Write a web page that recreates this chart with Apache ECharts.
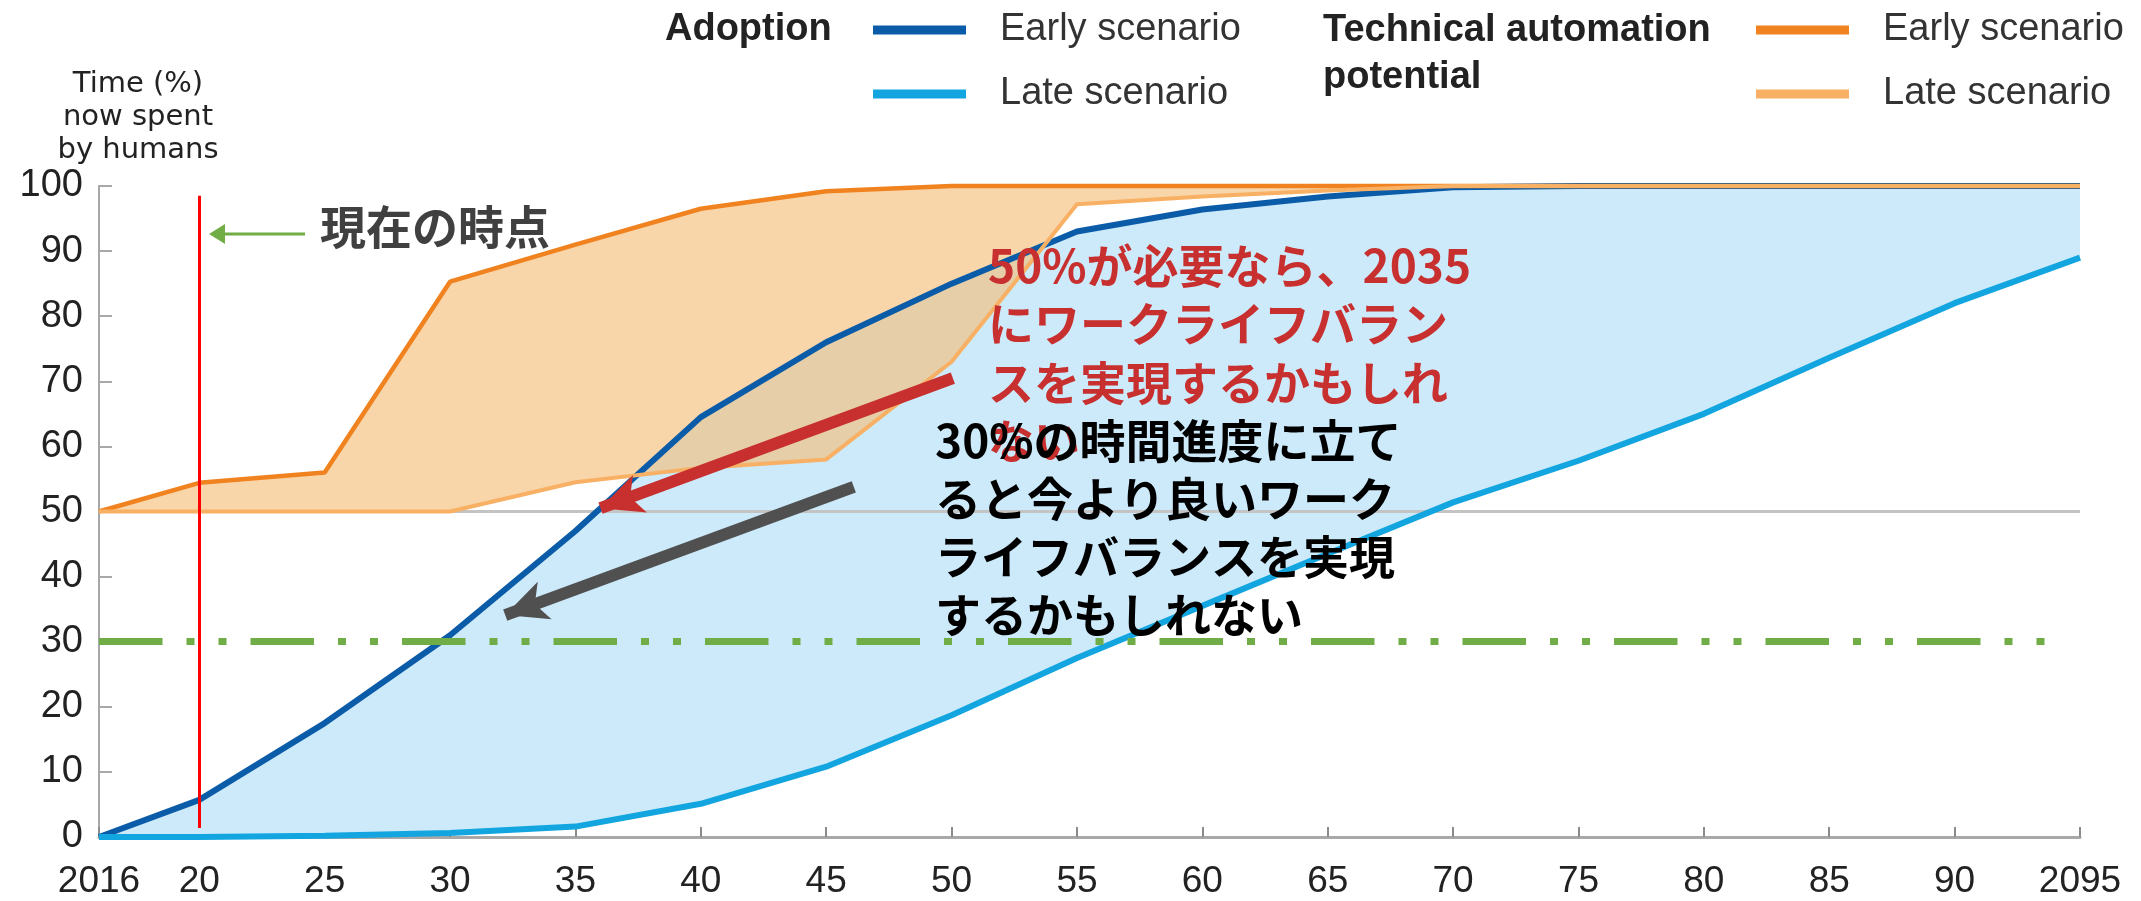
<!DOCTYPE html>
<html>
<head>
<meta charset="utf-8">
<script src="https://cdn.jsdelivr.net/npm/echarts@6/dist/echarts.min.js"></script>
<style>
html,body{margin:0;padding:0;background:#fff;}
#chart{width:2141px;height:901px;}
</style>
</head>
<body>
<div id="chart"></div>
<script>
// ---- data ----
var years = [2016, 2020, 2025, 2030, 2035, 2040, 2045, 2050, 2055, 2060, 2065, 2070, 2075, 2080, 2085, 2090, 2095];
var adoptionEarly = [0, 5.7, 17.5, 31, 47, 64.5, 76, 85, 93, 96.4, 98.4, 99.8, 100, 100, 100, 100, 100];
var adoptionLate  = [0, 0, 0.2, 0.6, 1.6, 5.1, 10.8, 18.7, 27.5, 35.5, 43.5, 51.4, 57.8, 65, 73.6, 82, 89];
var techEarly     = [50, 54.4, 56, 85.3, 91, 96.5, 99.2, 100, 100, 100, 100, 100, 100, 100, 100, 100, 100];
var techLate      = [50, 50, 50, 50, 54.5, 56.7, 58, 73, 97.2, 98.4, 99.3, 100, 100, 100, 100, 100, 100];
var xTickValues = [2016, 2020, 2025, 2030, 2035, 2040, 2045, 2050, 2055, 2060, 2065, 2070, 2075, 2080, 2085, 2090, 2095];

// reference lines / annotations (data coordinates)
var nowYear = 2020, nowLineFrom = 1.4, nowLineTo = 98.5;
var midLineValue = 50;
var targetLineValue = 30, targetLineEnd = 2093.7;
var redArrow = [[2050.05, 70.5], [2036.0, 50.5]];
var grayArrow = [[2046.1, 53.8], [2032.2, 34.1]];

function pairs(xs, ys) { return xs.map(function (x, i) { return [x, ys[i]]; }); }
function bandRows(lo, hi) { return years.map(function (x, i) { return [x, lo[i], hi[i]]; }); }

var C_DARKBLUE = '#0b5ca8', C_LIGHTBLUE = '#12a5df', C_ORANGE = '#f0821f', C_LORANGE = '#f8b064';
var FONT = 'Liberation Sans, Arial, sans-serif';
var JP = '"Noto Sans CJK JP", sans-serif';

function bandRenderer(lo, hi, fill) {
  return function (params, api) {
    if (params.dataIndex !== 0) return null;
    var pts = [];
    for (var i = 0; i < years.length; i++) pts.push(api.coord([years[i], hi[i]]));
    for (var j = years.length - 1; j >= 0; j--) pts.push(api.coord([years[j], lo[j]]));
    return { type: 'polygon', shape: { points: pts }, style: { fill: fill }, silent: true };
  };
}

var chart = echarts.init(document.getElementById('chart'));

function legendItem(name, label, left, top) {
  return {
    data: [name], left: left, top: top, icon: 'rect', itemWidth: 93, itemHeight: 9,
    padding: 0, selectedMode: false,
    formatter: function () { return label; },
    textStyle: { fontSize: 38, color: '#333', fontFamily: FONT, padding: [0, 0, 0, 29], lineHeight: 46 }
  };
}

var option = {
  animation: false,
  backgroundColor: '#fff',
  title: [
    { text: 'Adoption', left: 665, top: 7, padding: 0,
      textStyle: { fontSize: 38, fontWeight: 'bold', color: '#222', fontFamily: FONT, lineHeight: 46 } },
    { text: 'Technical automation\npotential', left: 1323, top: 7, padding: 0,
      textStyle: { fontSize: 38, fontWeight: 'bold', color: '#222', fontFamily: FONT, lineHeight: 47 } }
  ],
  legend: [
    legendItem('Adoption Early', 'Early scenario', 873, 7),
    legendItem('Adoption Late', 'Late scenario', 873, 71),
    legendItem('Technical Early', 'Early scenario', 1756, 7),
    legendItem('Technical Late', 'Late scenario', 1756, 71)
  ],
  grid: { left: 99, right: 61, top: 186, bottom: 64, containLabel: false, outerBoundsMode: 'none' },
  xAxis: {
    type: 'value', min: 2016, max: 2095,
    axisLine: { show: true, lineStyle: { color: '#a8a8a8', width: 3 } },
    axisTick: { show: true, inside: true, length: 10, customValues: xTickValues, lineStyle: { color: '#8c8c8c', width: 2 } },
    axisLabel: {
      customValues: xTickValues, margin: 26, fontSize: 37, color: '#222', fontFamily: FONT,
      formatter: function (v) { return (v === 2016 || v === 2095) ? String(v) : String(v).slice(2); }
    },
    splitLine: { show: false }
  },
  yAxis: {
    type: 'value', min: 0, max: 100, interval: 10,
    name: 'Time (%)\nnow spent\nby humans', nameLocation: 'end', nameGap: 18,
    nameTextStyle: { fontSize: 29, color: '#222', fontFamily: 'DejaVu Sans', lineHeight: 33,
      align: 'center', verticalAlign: 'bottom', padding: [0, 0, 0, 78] },
    axisLine: { show: true, lineStyle: { color: '#a8a8a8', width: 2 } },
    axisTick: { show: true, inside: true, length: 13, lineStyle: { color: '#a8a8a8', width: 2 } },
    axisLabel: { margin: 16, fontSize: 38, color: '#222', fontFamily: FONT },
    splitLine: { show: false }
  },
  series: [
    // adoption band (light blue)
    { name: 'adoptBand', type: 'custom', data: bandRows(adoptionLate, adoptionEarly), z: 1, silent: true,
      encode: { x: 0, y: [1, 2] },
      renderItem: bandRenderer(adoptionLate, adoptionEarly, '#cceafa'),
      markLine: {
        silent: true, symbol: 'none', z: 2, label: { show: false },
        lineStyle: { color: '#c4c4c4', width: 3, type: 'solid' },
        data: [[{ coord: [2016, midLineValue] }, { coord: [2095, midLineValue] }]]
      } },
    // technical band (orange)
    { name: 'techBand', type: 'custom', data: bandRows(techLate, techEarly), z: 1, silent: true,
      encode: { x: 0, y: [1, 2] },
      renderItem: bandRenderer(techLate, techEarly, 'rgba(245,187,113,0.6)') },
    // lines
    { name: 'Adoption Early', type: 'line', data: pairs(years, adoptionEarly), z: 3, clip: false,
      showSymbol: false, color: C_DARKBLUE, lineStyle: { color: C_DARKBLUE, width: 6 },
      markLine: {
        silent: true, symbol: 'none', z: 4, label: { show: false },
        data: [
          [{ coord: [nowYear, nowLineFrom], lineStyle: { color: '#ff0000', width: 3, type: 'solid' } },
           { coord: [nowYear, nowLineTo] }],
          [{ coord: [2016, targetLineValue], lineStyle: { color: '#70ad47', width: 7, type: [63.5, 24, 8, 24, 8, 24], cap: 'butt' } },
           { coord: [targetLineEnd, targetLineValue] }]
        ]
      } },
    { name: 'Adoption Late', type: 'line', data: pairs(years, adoptionLate), z: 3, clip: false,
      showSymbol: false, color: C_LIGHTBLUE, lineStyle: { color: C_LIGHTBLUE, width: 6 } },
    { name: 'Technical Early', type: 'line', data: pairs(years, techEarly), z: 3, clip: false,
      showSymbol: false, color: C_ORANGE, lineStyle: { color: C_ORANGE, width: 4.5 } },
    { name: 'Technical Late', type: 'line', data: pairs(years, techLate), z: 3, clip: false,
      showSymbol: false, color: C_LORANGE, lineStyle: { color: C_LORANGE, width: 4 },
      markLine: {
        silent: true, symbol: ['none', 'arrow'], symbolSize: [30, 42], z: 6, label: { show: false },
        data: [
          [{ coord: redArrow[0], lineStyle: { color: '#c8302f', width: 12, type: 'solid' }, itemStyle: { color: '#c8302f' } },
           { coord: redArrow[1], itemStyle: { color: '#c8302f' } }],
          [{ coord: grayArrow[0], lineStyle: { color: '#505050', width: 12, type: 'solid' }, itemStyle: { color: '#505050' } },
           { coord: grayArrow[1], itemStyle: { color: '#505050' } }]
        ]
      } }
  ],
  graphic: [
    { type: 'line', shape: { x1: 305, y1: 234, x2: 222, y2: 234 }, style: { stroke: '#70ad47', lineWidth: 3 }, z: 10 },
    { type: 'polygon', shape: { points: [[209, 234], [225, 224], [225, 244]] }, style: { fill: '#70ad47' }, z: 10 },
    { type: 'text', left: 320, top: 204, z: 10,
      style: { text: '現在の時点', font: 'bold 46px ' + JP, fill: '#404040' } },
    { type: 'text', left: 988, top: 236, z: 11,
      style: { text: '50%が必要なら、2035\nにワークライフバラン\nスを実現するかもしれ\nない', font: 'bold 46px ' + JP, fill: '#c8302f', lineHeight: 58.5 } },
    { type: 'text', left: 935, top: 412, z: 12,
      style: { text: '30%の時間進度に立て\nると今より良いワーク\nライフバランスを実現\nするかもしれない', font: 'bold 46px ' + JP, fill: '#000', lineHeight: 58 } }
  ]
};
chart.setOption(option);
</script>
</body>
</html>
